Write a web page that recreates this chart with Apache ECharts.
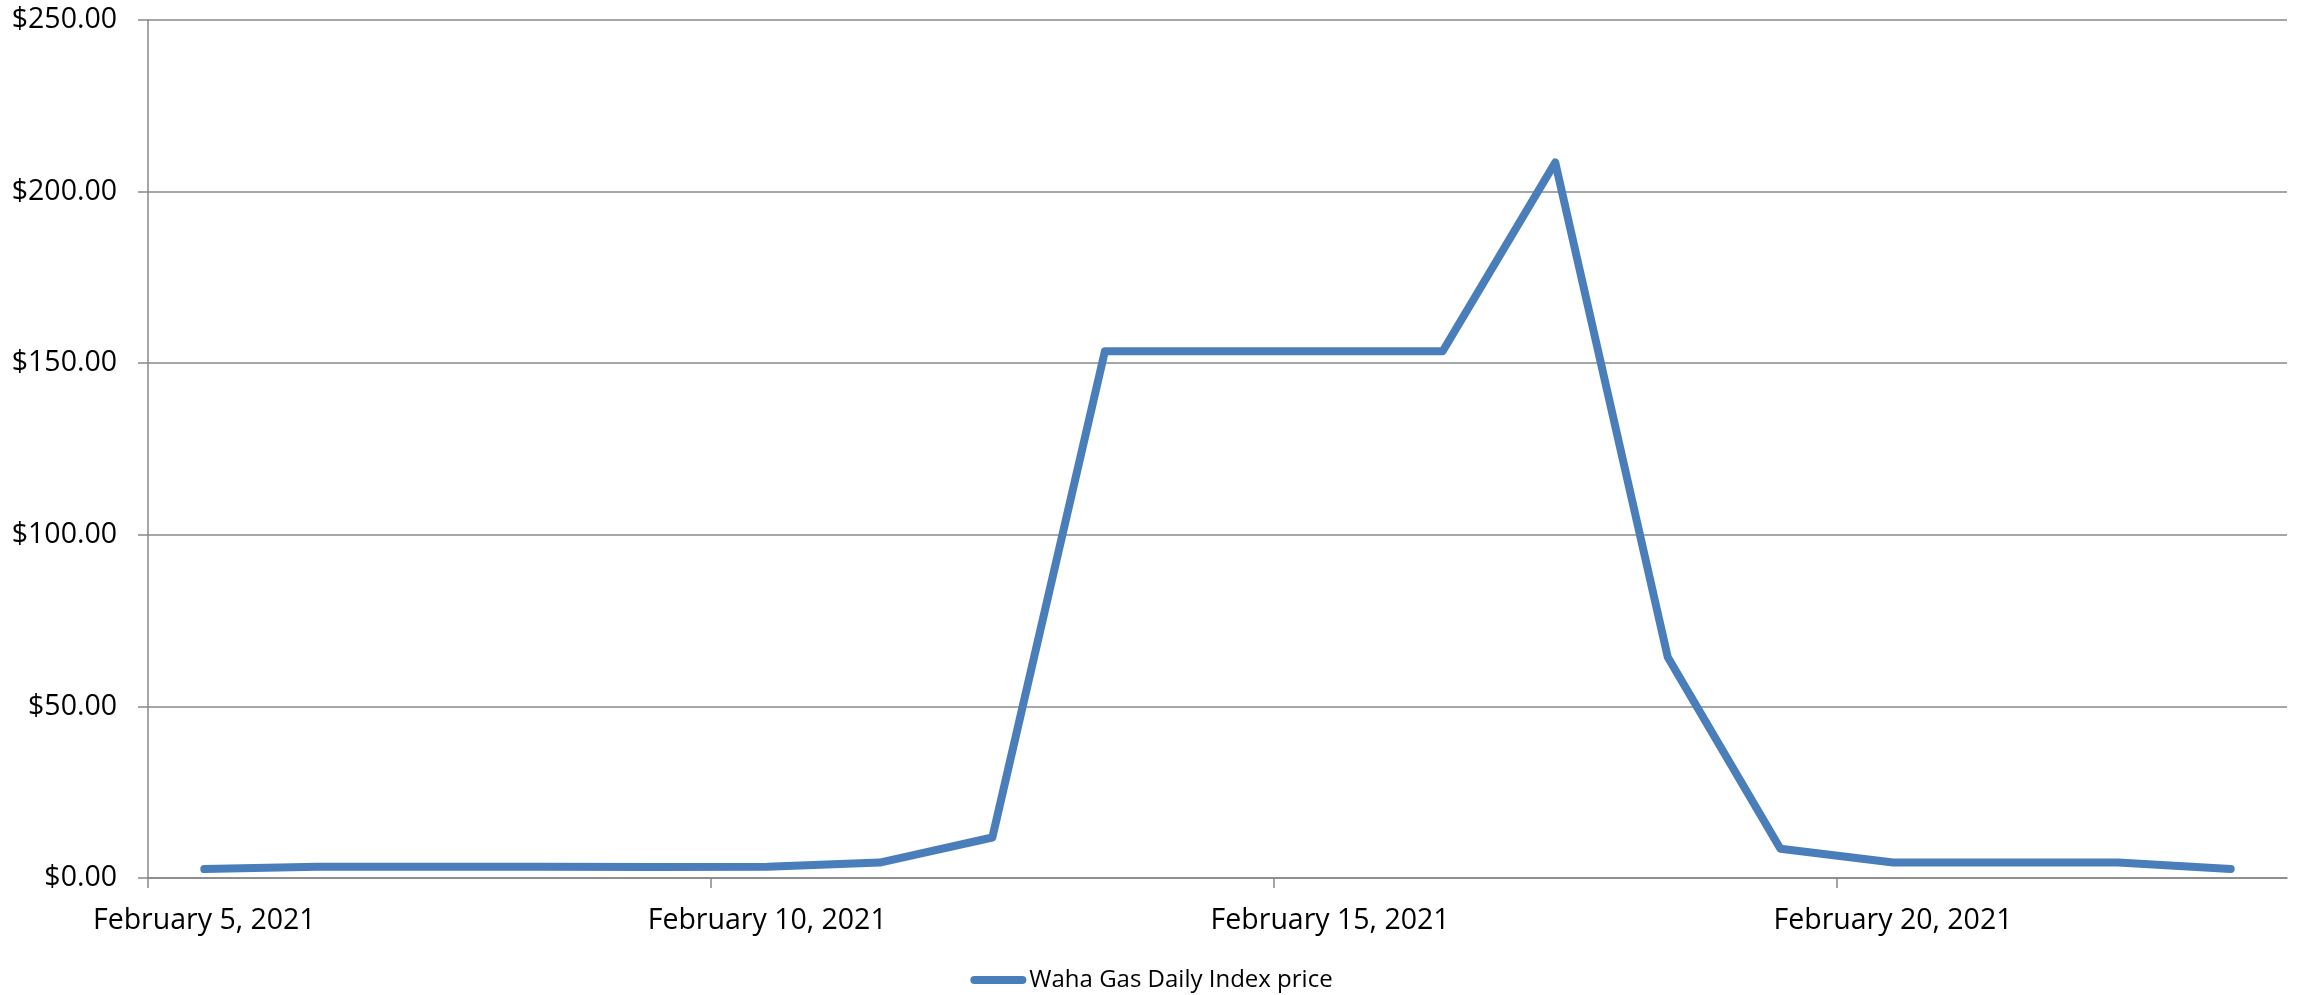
<!DOCTYPE html>
<html>
<head>
<meta charset="utf-8">
<title>Waha Gas Daily Index price</title>
<script src="https://cdn.jsdelivr.net/npm/echarts@6/dist/echarts.min.js"></script>
<style>
	html, body { margin: 0; padding: 0; background: #ffffff; }
	#chartDiv { width: 2303px; height: 995px; }
</style>
</head>
<body>
<div id="chartDiv"></div>
<script>
// 数据
let days = [
	'February 5, 2021', 'February 6, 2021', 'February 7, 2021', 'February 8, 2021',
	'February 9, 2021', 'February 10, 2021', 'February 11, 2021', 'February 12, 2021',
	'February 13, 2021', 'February 14, 2021', 'February 15, 2021', 'February 16, 2021',
	'February 17, 2021', 'February 18, 2021', 'February 19, 2021', 'February 20, 2021',
	'February 21, 2021', 'February 22, 2021', 'February 23, 2021'
];
let prices = [
	2.6, 3.3, 3.3, 3.3, 3.2, 3.3, 4.5, 11.8,
	153.5, 153.5, 153.5, 153.5, 208.5, 64.3, 8.5, 4.5,
	4.5, 4.5, 2.6
];
let labelDays = [0, 5, 10, 15];   // 显示标签的日期序号
let seriesName = 'Waha Gas Daily Index price';

// 初始化图表
let myChart = echarts.init(document.getElementById('chartDiv'));
window.onresize = myChart.resize;

let gray = '#888888';
let font = '"Open Sans", "Noto Sans", sans-serif';

// 日期轴用数值轴表示：每天占一格，刻度在格子边界，标签在格子中间
let points = prices.map(function (p, i) { return [i, p]; });
let tickValues = labelDays.map(function (d) { return d - 0.5; });

let option = {
	backgroundColor: '#ffffff',
	animation: false,
	grid: {
		left: 148,
		right: 16,
		top: 20,
		bottom: 117
	},
	legend: {
		show: true,
		top: 963,
		left: 'center',
		itemWidth: 56,
		itemHeight: 8,
		itemGap: 3,
		icon: 'path://M4,0 H52 A4,4 0 0 1 52,8 H4 A4,4 0 0 1 4,0 Z',
		textStyle: {
			color: '#000000',
			fontFamily: font,
			fontSize: 24,
			padding: [0, 0, 0, -2]
		},
		data: [seriesName]
	},
	xAxis: {
		type: 'value',
		min: -0.5,
		max: days.length - 0.5,
		axisLine: {
			show: true,
			onZero: false,
			lineStyle: { color: gray, width: 1.5 }
		},
		axisTick: {
			show: true,
			length: 10,
			customValues: tickValues,
			lineStyle: { color: gray, width: 1.5 }
		},
		axisLabel: {
			margin: 28,
			color: '#000000',
			fontFamily: font,
			fontSize: 28.5,
			customValues: labelDays,
			formatter(value) {
				return days[Math.round(value)];
			}
		},
		splitLine: { show: false }
	},
	yAxis: {
		type: 'value',
		min: 0,
		max: 250,
		interval: 50,
		axisLine: {
			show: true,
			onZero: false,
			lineStyle: { color: gray, width: 1.5 }
		},
		axisTick: {
			show: true,
			length: 10,
			lineStyle: { color: gray, width: 1.5 }
		},
		axisLabel: {
			margin: 31,
			color: '#000000',
			fontFamily: font,
			fontSize: 28.5,
			formatter(value) {
				return '$' + value.toFixed(2);
			}
		},
		splitLine: {
			show: true,
			lineStyle: { color: gray, width: 1.5 }
		}
	},
	series: [{
		name: seriesName,
		type: 'line',
		data: points,
		showSymbol: false,
		symbol: 'none',
		color: '#4a7ebb',
		lineStyle: {
			color: '#4a7ebb',
			width: 8,
			cap: 'round',
			join: 'round'
		}
	}]
};
myChart.setOption(option);
</script>
</body>
</html>
